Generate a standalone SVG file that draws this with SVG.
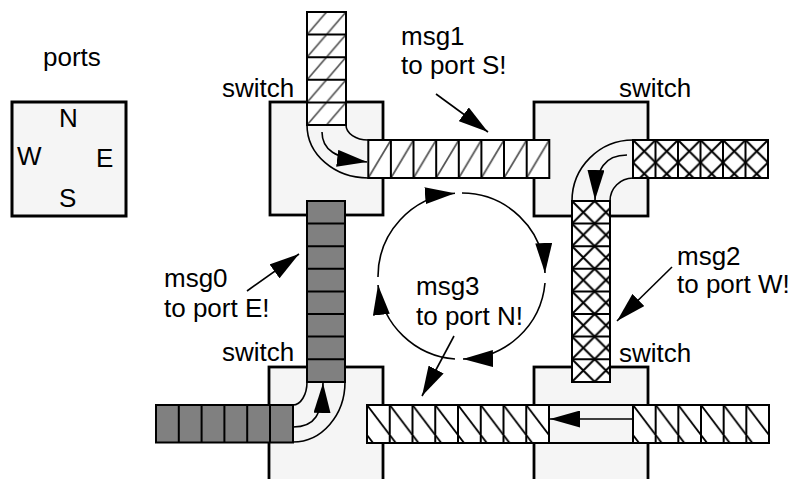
<svg xmlns="http://www.w3.org/2000/svg" width="795" height="479" viewBox="0 0 795 479">
<style>
.sw{fill:#f5f5f5;stroke:#000;stroke-width:2.8}
.cell{stroke:#000;stroke-width:2}
.div{fill:none;stroke:#000;stroke-width:2}
.ch{fill:none;stroke:#000;stroke-width:1.6}
.ln{fill:none;stroke:#000;stroke-width:1.6}
.lbl{font-family:"Liberation Sans",Arial,Helvetica,sans-serif;font-size:26px;fill:#000}
</style>
<defs>
<marker id="ah" viewBox="0 0 30 17" refX="30" refY="8.5" markerWidth="30" markerHeight="17" markerUnits="userSpaceOnUse" orient="auto"><path d="M0,0 L30,8.5 L0,17 z" fill="#000"/></marker>
<pattern id="h1v" patternUnits="userSpaceOnUse" x="307" y="12" width="19.5" height="22.6"><rect width="19.5" height="22.6" fill="#fff"/><path d="M-1,23.76 L20.5,-1.16" stroke="#555" stroke-width="1.7"/></pattern>
<pattern id="h1h" patternUnits="userSpaceOnUse" x="368.3" y="140" width="22.62" height="38"><rect width="22.62" height="38" fill="#fff"/><path d="M-0.6,39 L23.2,-1" stroke="#555" stroke-width="1.7"/></pattern>
<pattern id="h3a" patternUnits="userSpaceOnUse" x="367" y="405" width="22.75" height="30"><rect width="22.75" height="30" fill="#fff"/><path d="M-0.76,-1 L23.5,31" stroke="#000" stroke-width="1.8"/></pattern>
<pattern id="h3b" patternUnits="userSpaceOnUse" x="633" y="405" width="22.67" height="30"><rect width="22.67" height="30" fill="#fff"/><path d="M-0.76,-1 L23.4,31" stroke="#000" stroke-width="1.8"/></pattern>
<pattern id="x2h" patternUnits="userSpaceOnUse" x="633" y="140" width="22.5" height="22.5"><rect width="22.5" height="22.5" fill="#fff"/><path d="M-1,-1 L23.5,23.5 M-1,23.5 L23.5,-1" stroke="#000" stroke-width="2"/></pattern>
<pattern id="x2v" patternUnits="userSpaceOnUse" x="572" y="201" width="22.6" height="22.6"><rect width="22.6" height="22.6" fill="#fff"/><path d="M-1,-1 L23.6,23.6 M-1,23.6 L23.6,-1" stroke="#000" stroke-width="2"/></pattern>
</defs>

<g id="ports">
<text class="lbl" x="43" y="66">ports</text>
<rect x="12" y="102" width="114" height="114" fill="#f5f5f5" stroke="#000" stroke-width="3"/>
<text class="lbl" x="59" y="127">N</text>
<text class="lbl" x="17" y="165">W</text>
<text class="lbl" x="96" y="167">E</text>
<text class="lbl" x="59" y="207">S</text>
</g>

<g id="switch-tl">
<rect class="sw" x="270" y="102" width="113" height="113"/>
<text class="lbl" x="222" y="97">switch</text>
</g>
<g id="switch-tr">
<rect class="sw" x="534" y="102" width="114" height="114"/>
<text class="lbl" x="619" y="97">switch</text>
</g>
<g id="switch-bl">
<rect class="sw" x="269" y="367" width="114" height="140"/>
<text class="lbl" x="222" y="361">switch</text>
</g>
<g id="switch-br">
<rect class="sw" x="534" y="367" width="114" height="140"/>
<text class="lbl" x="619" y="362">switch</text>
</g>

<g id="channels">
<path class="ch" d="M307,125 A61,53 0 0 0 368,178"/>
<path class="ch" d="M346,125 A22,15 0 0 0 368,140"/>
<path class="ch" d="M633,140 A61,61 0 0 0 572,201"/>
<path class="ch" d="M633,178 A23,23 0 0 0 610,201"/>
<path class="ch" d="M293,442 A52,60 0 0 0 345,382"/>
<path class="ch" d="M293,405 A14,23 0 0 0 307,382"/>
<rect x="549" y="405" width="84" height="38" fill="#f5f5f5" stroke="#000" stroke-width="2"/>
</g>

<g id="msg1">
<rect class="cell" x="307" y="12" width="39" height="113" fill="url(#h1v)"/>
<path class="div" d="M307,34.6H346M307,57.2H346M307,79.8H346M307,102.4H346"/>
<rect class="cell" x="368.3" y="140" width="181" height="38" fill="url(#h1h)"/>
<path class="div" d="M390.9,140V178M413.5,140V178M436.2,140V178M458.8,140V178M481.4,140V178M504,140V178M526.7,140V178"/>
<text class="lbl" x="401" y="45">msg1</text>
<text class="lbl" x="401" y="74">to port S!</text>
</g>

<g id="msg2">
<rect class="cell" x="633" y="140" width="135" height="38" fill="url(#x2h)"/>
<path class="div" d="M655.5,140V178M678,140V178M700.5,140V178M723,140V178M745.5,140V178"/>
<rect class="cell" x="572" y="201" width="38" height="181" fill="url(#x2v)"/>
<path class="div" d="M572,223.6H610M572,246.2H610M572,268.8H610M572,291.4H610M572,314H610M572,336.6H610M572,359.2H610"/>
<text class="lbl" x="677" y="265">msg2</text>
<text class="lbl" x="677" y="293">to port W!</text>
</g>

<g id="msg0">
<rect class="cell" x="307" y="201" width="38" height="181" fill="#808080"/>
<path class="div" d="M307,223.6H345M307,246.2H345M307,268.8H345M307,291.4H345M307,314H345M307,336.6H345M307,359.2H345"/>
<rect class="cell" x="156" y="405" width="137" height="37.5" fill="#808080"/>
<path class="div" d="M178.8,405V442.5M201.6,405V442.5M224.4,405V442.5M247.2,405V442.5M270,405V442.5"/>
<text class="lbl" x="164" y="287">msg0</text>
<text class="lbl" x="164" y="317">to port E!</text>
</g>

<g id="msg3">
<rect class="cell" x="367" y="405" width="182" height="38" fill="url(#h3a)"/>
<path class="div" d="M389.75,405V443M412.5,405V443M435.25,405V443M458,405V443M480.75,405V443M503.5,405V443M526.25,405V443"/>
<rect class="cell" x="633" y="405" width="136" height="38" fill="url(#h3b)"/>
<path class="div" d="M655.67,405V443M678.33,405V443M701,405V443M723.67,405V443M746.33,405V443"/>
<text class="lbl" x="416" y="295">msg3</text>
<text class="lbl" x="416" y="325">to port N!</text>
</g>

<g id="connectors">
<path class="ln" d="M322,132 C322,150 335,158 367,162" marker-end="url(#ah)"/>
<path class="ln" d="M627,155 C605,155 596,168 595,200" marker-end="url(#ah)"/>
<path class="ln" d="M293,427 C315,427 322,415 323,383" marker-end="url(#ah)"/>
<path class="ln" d="M632,419 L550,419" marker-end="url(#ah)"/>
<path class="ln" d="M378,277 A83.5,83.5 0 0 1 455,193.3" marker-end="url(#ah)"/>
<path class="ln" d="M462,193 A83.5,83.5 0 0 1 545,273" marker-end="url(#ah)"/>
<path class="ln" d="M545,283 A83.5,83.5 0 0 1 463,359" marker-end="url(#ah)"/>
<path class="ln" d="M455,359 A83.5,83.5 0 0 1 378,285" marker-end="url(#ah)"/>
<path class="ln" d="M436,94 L488,132" marker-end="url(#ah)"/>
<path class="ln" d="M247,291 L299,254" marker-end="url(#ah)"/>
<path class="ln" d="M672,267 L617,321" marker-end="url(#ah)"/>
<path class="ln" d="M454,336 L422,396" marker-end="url(#ah)"/>
</g>
</svg>
